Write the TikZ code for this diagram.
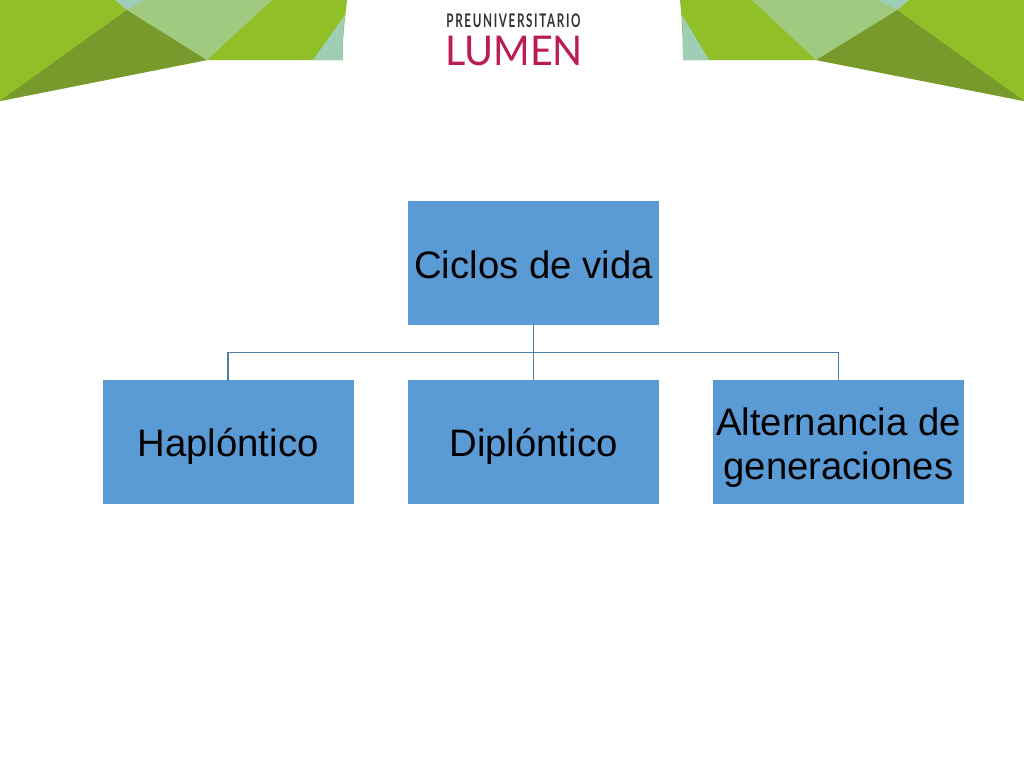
\documentclass[tikz,border=0pt]{standalone}
\usepackage{fontspec}
\setmainfont{Liberation Sans}
\newfontfamily\logofont{Lato}
\definecolor{boxblue}{HTML}{5B9BD5}
\definecolor{linkblue}{HTML}{4A7EAB}
\definecolor{leaf}{HTML}{90BF27}
\definecolor{leafdark}{HTML}{78992B}
\definecolor{leaflight}{HTML}{A0CA80}
\definecolor{leafteal}{HTML}{9ECFB6}
\definecolor{logored}{HTML}{BC1C55}
\definecolor{logogrey}{HTML}{333333}
\newcommand{\celltext}[2]{\raisebox{-#1pt}[0pt][0pt]{#2}}
\tikzset{
  cell/.style={fill=boxblue,draw=none,minimum width=251pt,minimum height=124pt,inner sep=0pt,align=center,text=black,font=\fontsize{38.3}{44}\selectfont},
  link/.style={draw=linkblue,line width=1.3pt}
}
\begin{document}
\begin{tikzpicture}[x=1pt,y=-1pt]
\useasboundingbox (0,0) rectangle (1024,768);
% left corner
\fill[leaf] (0,0) -- (347,0) .. controls (345,20) and (342,40) .. (343,60) -- (207,60) -- (0,101) -- cycle;
\fill[leafdark] (0,101) -- (127,10) -- (207,60) -- cycle;
\fill[leaflight] (127,10) -- (207,60) -- (272,0) -- (145,0) -- cycle;
\fill[leafteal] (115,0) -- (127,10) -- (145,0) -- cycle;
\fill[leafteal] (345,15) .. controls (343,30) and (342,45) .. (343,60) -- (313,60) -- cycle;
% right corner
\fill[leaf] (1024,0) -- (680,0) .. controls (682,20) and (683,40) .. (683,60) -- (816,60) -- (1024,101) -- cycle;
\fill[leafdark] (1024,101) -- (897,10) -- (816,60) -- cycle;
\fill[leaflight] (897,10) -- (816,60) -- (752,0) -- (877,0) -- cycle;
\fill[leafteal] (877,0) -- (897,10) -- (909,0) -- cycle;
\fill[leafteal] (682,15) .. controls (683,30) and (683,45) .. (683,60) -- (709,60) -- cycle;
% logo
\node[inner sep=0pt,text=logogrey,font=\logofont\bfseries\fontsize{15}{15}\selectfont] (logotop) at (513.5,21) {\addfontfeature{LetterSpace=14}\scalebox{.78}[1.25]{PREUNIVERSITARIO}};
\node[inner sep=0pt,text=logored,font=\logofont\fontsize{41}{41}\selectfont] (logomain) at (514,50.5) {\scalebox{.963}[1]{LUMEN}};
% boxes
\node[cell] (root) at (533.5,263) {\celltext{15}{Ciclos de vida}};
\node[cell] (a) at (228,442) {\celltext{14}{Haplóntico}};
\node[cell] (b) at (533.5,442) {\celltext{14}{Diplóntico}};
\node[cell] (c) at (838.5,442) {\celltext{12}{\parbox[c]{251pt}{\centering Alternancia de\\generaciones}}};
\coordinate (bus) at (533.5,352.5);
\draw[link] ([yshift=1pt]root.south) -- (bus);
\draw[link] ([yshift=-1pt]a.north) |- (bus) -| ([yshift=-1pt]c.north);
\draw[link] (bus) -- ([yshift=-1pt]b.north);
\end{tikzpicture}
\end{document}
